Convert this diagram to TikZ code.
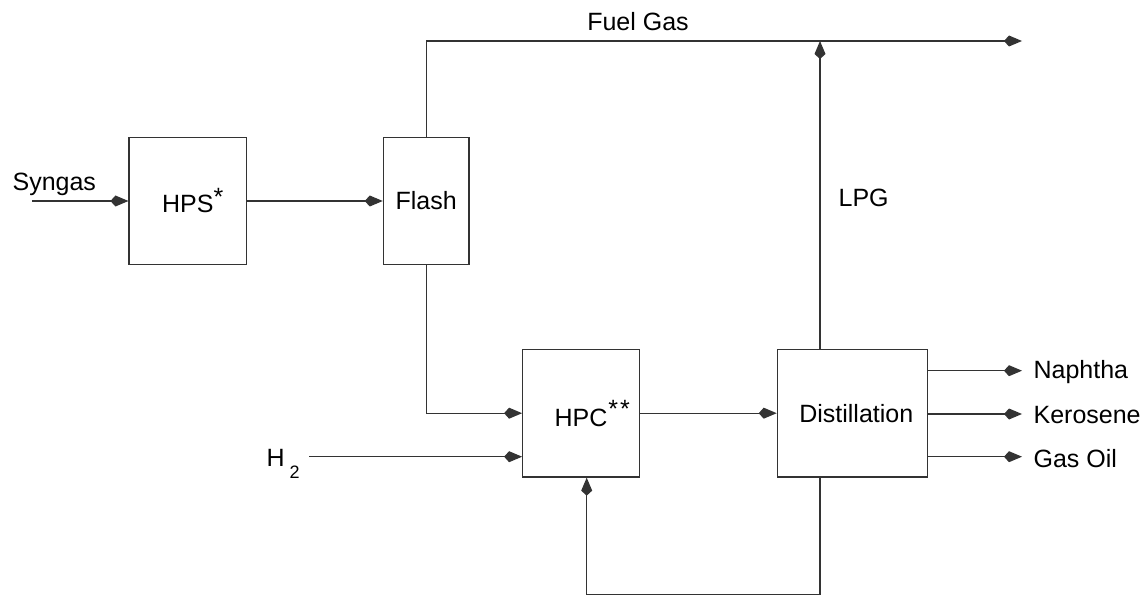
\documentclass[tikz,border=0pt]{standalone}
\usepackage{fontspec}
\setmainfont{Liberation Sans}
\usepackage{tikz}
\usetikzlibrary{arrows.meta,calc,positioning}
\usepackage{xcolor}

\begin{document}
\begin{tikzpicture}[x=1pt,y=-1pt,line width=1.2pt,draw=black!80,
  every node/.style={font=\fontsize{25}{30}\selectfont,inner sep=0pt},
  unit/.style={draw,minimum height=127pt},
  flow/.style={-{Kite[length=18pt,width=11pt,inset=5pt]}}]
\useasboundingbox (0,0) rectangle (1146,596);
\node[unit,minimum width=117.5pt] (hps) at (187.8,200.8) {HPS\rlap{\raisebox{7pt}{*}}};
\node[unit,minimum width=85.7pt] (flash) at (426.2,200.8) {Flash};
\node[unit,minimum width=116.6pt,minimum height=127.7pt] (hpc) at (581,413.2) {HPC\rlap{\raisebox{9pt}{\kern1pt*\kern2pt*}}};
\node[unit,minimum width=150pt,minimum height=127.7pt] (dist) at (852.3,413.2) {\kern8pt Distillation};
\coordinate (syn) at (32,201);
\coordinate (h2) at (309,456.7);
\coordinate (fuel) at (1022,41);
\coordinate (lpg) at (820,41);
\coordinate (rec) at (586.7,594.5);
\node[anchor=base west] (synl) at (12,191) {Syngas};
\node[anchor=base west] (h2l) at (266,466.7) {H\raisebox{-11.5pt}{\kern5pt\fontsize{18}{20}\selectfont 2}};
\node[anchor=base] (fuell) at (638,30.7) {Fuel Gas};
\node[anchor=base west] (lpgl) at (838,207) {LPG};
\draw[flow] (syn) -- (syn -| hps.west);
\draw[flow] (hps.east |- syn) -- (flash.west |- syn);
\draw[flow] (flash.north) |- (fuel);
\draw[flow] (lpg |- dist.north) -- (lpg);
\draw[flow] (flash.south) |- (hpc.west);
\draw[flow] (h2) -- (h2 -| hpc.west);
\draw[flow] (hpc.east) -- (dist.west);
\draw[flow] (lpg |- dist.south) |- (rec) -- (rec |- hpc.south);
\foreach \y/\t/\n in {370.7/Naphtha/naph,414/Kerosene/kero,456.7/Gas Oil/gasoil}{
  \node[anchor=west] (\n) at (1033,\y+1.5) {\t};
  \draw[flow] (dist.east |- 0,\y) -- (1022,\y);
}
\end{tikzpicture}
\end{document}
